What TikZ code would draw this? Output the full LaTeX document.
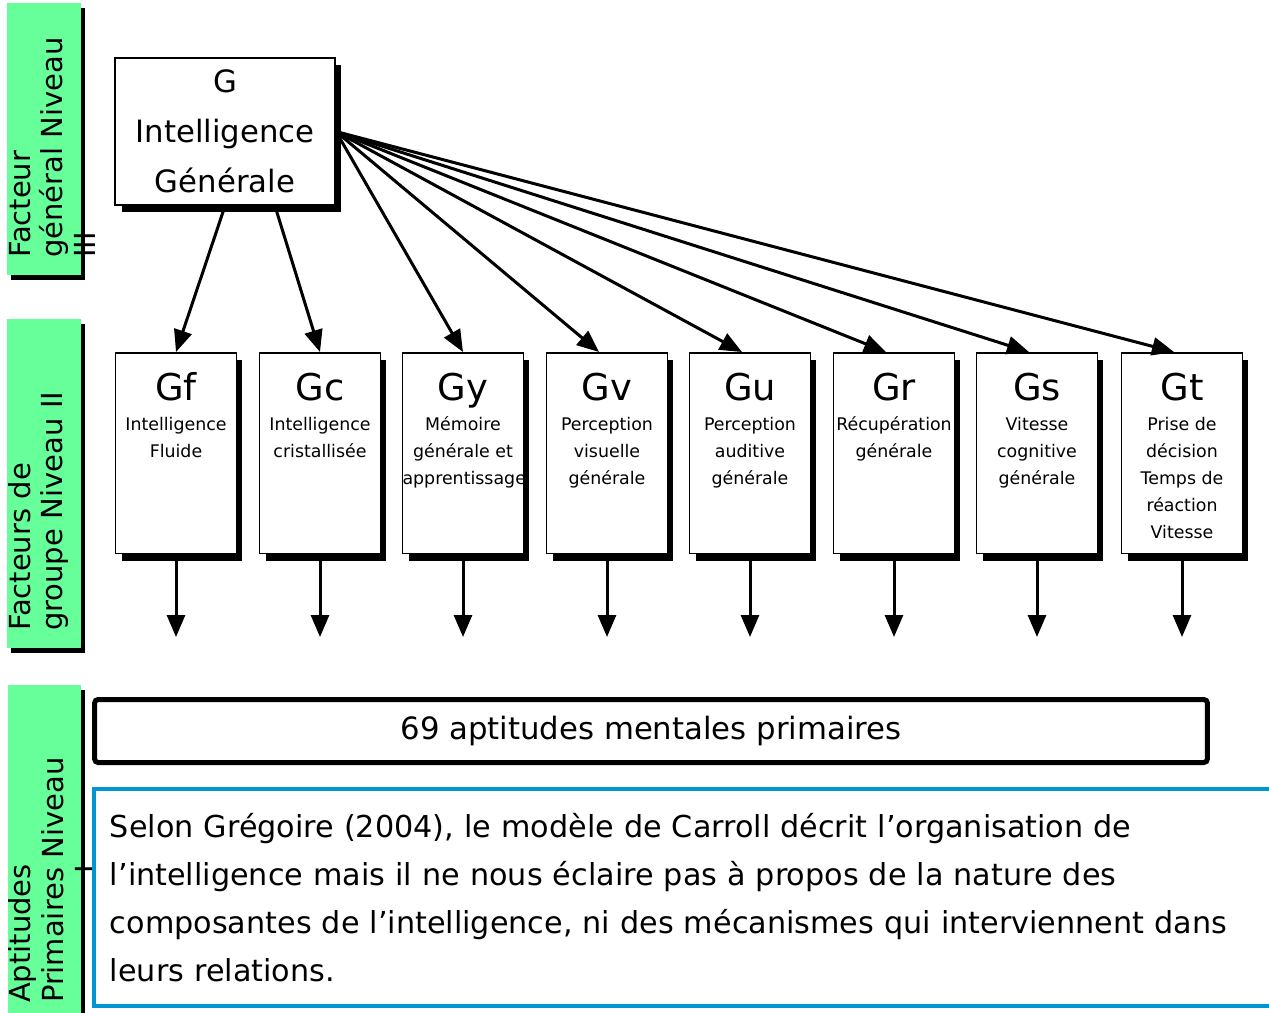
\documentclass[tikz,border=0pt]{standalone}
\usepackage{fontspec}
\setmainfont{DejaVu Sans}
\usetikzlibrary{arrows.meta,shadows}
\definecolor{lvl_green}{RGB}{102,255,153}
\definecolor{note_blue}{RGB}{0,150,210}
\newcommand{\grptext}[2]{\parbox[c][4.02cm][t]{2.42cm}{\centering\fontsize{21}{17}\selectfont\rule{0pt}{0.96cm}#1\\[0.06cm]\fontsize{9.9}{15.3}\selectfont #2}}

\begin{document}
\begin{tikzpicture}[x=0.02cm,y=-0.02cm]
    \tikzstyle{lvl}=[fill=lvl_green, rotate=90, align=left, inner xsep=0.34cm, inner ysep=0pt, minimum height=1.48cm, text height=0cm, text depth=0.56cm, font=\fontsize{16.5}{18.7}\selectfont, drop shadow={shadow xshift=0.08cm, shadow yshift=-0.1cm, fill=black, opacity=1}]
    \tikzstyle{gbox}=[draw=black, line width=0.04cm, fill=white, minimum width=4.4cm, minimum height=2.94cm, align=center, font=\fontsize{17.5}{28.3}\selectfont, drop shadow={shadow xshift=0.13cm, shadow yshift=-0.14cm, fill=black, opacity=1}]
    \tikzstyle{grp}=[draw=black, line width=0.03cm, fill=white, inner sep=0pt, anchor=north, drop shadow={shadow xshift=0.12cm, shadow yshift=-0.14cm, fill=black, opacity=1}]
    \tikzstyle{prim}=[draw=black, line width=0.1cm, rounded corners=2pt, minimum width=22.26cm, minimum height=1.26cm, font=\fontsize{17.5}{21}\selectfont]
    \tikzstyle{note}=[draw=note_blue, line width=0.08cm, anchor=north west, minimum width=24.4cm, minimum height=4.34cm, text width=23.76cm, align=left, inner xsep=0.32cm, font=\fontsize{17.2}{27.2}\selectfont]
    \tikzstyle{arr}=[->, >={Triangle[length=0.44cm,width=0.36cm]}, line width=0.06cm]

    \useasboundingbox[fill=white] (0,0) rectangle (1269,1012);

    % niveaux
    \node[lvl, text width=4.76cm] (lvl3) at (44,139) {Facteur\\général Niveau\\III};
    \node[lvl, text width=5.9cm] (lvl2) at (44,483.5) {Facteurs de\\groupe Niveau II};
    \node[lvl, text width=6.02cm] (lvl1) at (44.5,852.5) {Aptitudes\\Primaires Niveau\\\hspace*{2.6cm}I};

    % facteur general
    \node[gbox] (G) at (225,131.5) {G\\Intelligence\\Générale};

    % facteurs de groupe
    \node[grp] (Gf) at (176,352)  {\grptext{Gf}{Intelligence\\Fluide}};
    \node[grp] (Gc) at (320,352)  {\grptext{Gc}{Intelligence\\cristallisée}};
    \node[grp] (Gy) at (463,352)  {\grptext{Gy}{Mémoire\\générale et\\apprentissage}};
    \node[grp] (Gv) at (607,352)  {\grptext{Gv}{Perception\\visuelle\\générale}};
    \node[grp] (Gu) at (750,352)  {\grptext{Gu}{Perception\\auditive\\générale}};
    \node[grp] (Gr) at (894,352)  {\grptext{Gr}{Récupération\\générale}};
    \node[grp] (Gs) at (1037,352) {\grptext{Gs}{Vitesse\\cognitive\\générale}};
    \node[grp] (Gt) at (1182,352) {\grptext{Gt}{Prise de\\décision\\Temps de\\réaction\\Vitesse}};

    \coordinate (Gf-out) at (176,637);
    \coordinate (Gc-out) at (320,637);
    \coordinate (Gy-out) at (463,637);
    \coordinate (Gv-out) at (607,637);
    \coordinate (Gu-out) at (750,637);
    \coordinate (Gr-out) at (894,637);
    \coordinate (Gs-out) at (1037,637);
    \coordinate (Gt-out) at (1182,637);

    % aptitudes primaires
    \node[prim] (prim) at (651,731) {69 aptitudes mentales primaires};
    \node[note] (note) at (92,787) {Selon Grégoire (2004), le modèle de Carroll décrit l’organisation de\\
      l’intelligence mais il ne nous éclaire pas à propos de la nature des\\
      composantes de l’intelligence, ni des mécanismes qui interviennent dans\\
      leurs relations.};

    \path[arr]
     (G.south) edge (Gf.north)
     ([xshift=1cm]G.south) edge (Gc.north)
     (G.east) edge (Gy.north)
     (G.east) edge ([xshift=-0.16cm]Gv.north)
     (G.east) edge ([xshift=-0.16cm]Gu.north)
     (G.east) edge ([xshift=-0.16cm]Gr.north)
     (G.east) edge ([xshift=-0.16cm]Gs.north)
     (G.east) edge ([xshift=-0.16cm]Gt.north)
     (Gf.south) edge (Gf-out)
     (Gc.south) edge (Gc-out)
     (Gy.south) edge (Gy-out)
     (Gv.south) edge (Gv-out)
     (Gu.south) edge (Gu-out)
     (Gr.south) edge (Gr-out)
     (Gs.south) edge (Gs-out)
     (Gt.south) edge (Gt-out)
     ;
\end{tikzpicture}
\end{document}
